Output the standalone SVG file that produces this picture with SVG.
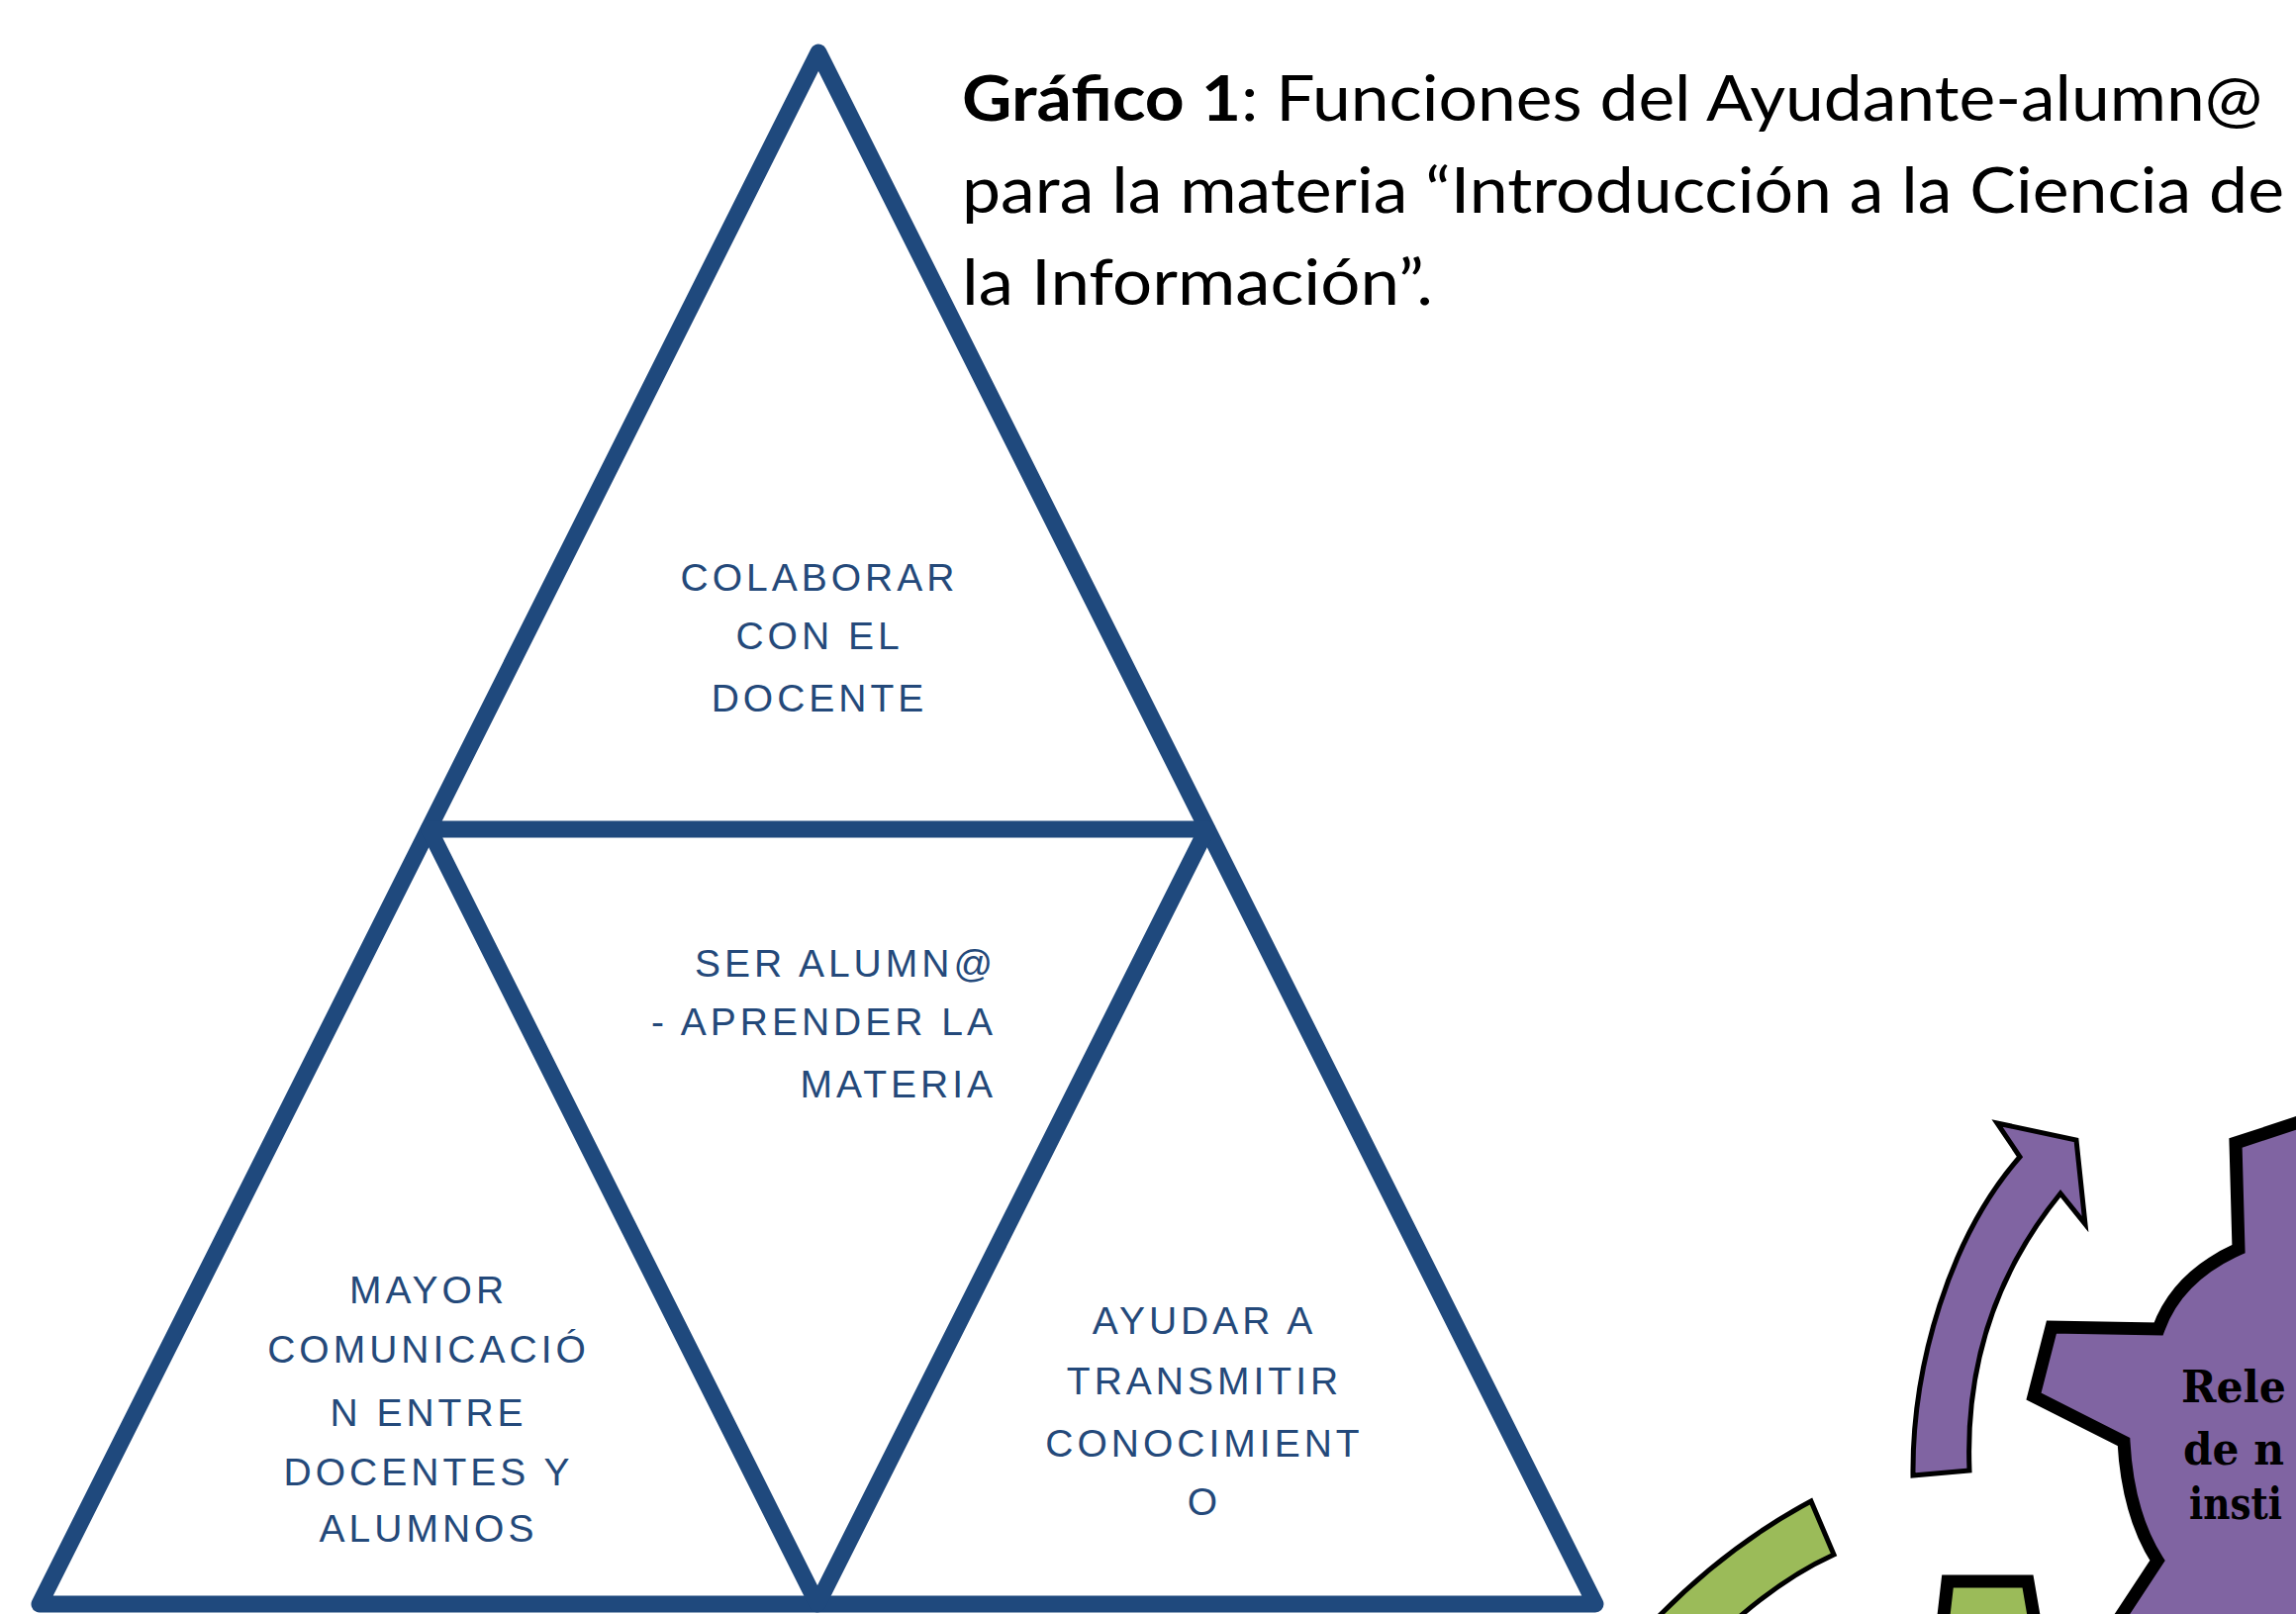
<svg xmlns="http://www.w3.org/2000/svg" width="2320" height="1631" viewBox="0 0 2320 1631">
<style>
.tri{fill:none;stroke:#1F497D;stroke-width:17;stroke-linejoin:round}
.lbl{font-family:"Liberation Sans","DejaVu Sans",sans-serif;font-size:39px;letter-spacing:4px;fill:#24497A;text-anchor:middle}
.lblr{text-anchor:end}
.title{font-family:"Lato","Liberation Sans",sans-serif;font-size:64px;fill:#000}
.gear{font-family:"DejaVu Serif","Liberation Serif",serif;font-weight:bold;font-size:44px;fill:#000}
.purple{fill:#8064A2;stroke:#000}
.green{fill:#9BBB59;stroke:#000}
</style>
<rect width="2320" height="1631" fill="#fff"/>
<g id="title">
<text class="title" x="972" y="122" textLength="1314" lengthAdjust="spacingAndGlyphs"><tspan font-weight="bold">Gráfico 1</tspan>: Funciones del Ayudante-alumn@</text>
<text class="title" x="972" y="215" textLength="1336" lengthAdjust="spacingAndGlyphs">para la materia “Introducción a la Ciencia de</text>
<text class="title" x="972" y="308" textLength="476" lengthAdjust="spacingAndGlyphs">la Información”.</text>
</g>
<g id="pyramid">
<polygon class="tri" points="827,53 40,1621 1612,1621"/>
<polygon class="tri" points="433.5,838 1219.5,838 826,1621"/>
</g>
<g id="node-colaborar">
<text class="lbl" x="828" y="597">COLABORAR</text>
<text class="lbl" x="828" y="656">CON EL</text>
<text class="lbl" x="828" y="719">DOCENTE</text>
</g>
<g id="node-ser-alumno">
<text class="lbl lblr" x="1007" y="987">SER ALUMN@</text>
<text class="lbl lblr" x="1007" y="1046">- APRENDER LA</text>
<text class="lbl lblr" x="1007" y="1109">MATERIA</text>
</g>
<g id="node-comunicacion">
<text class="lbl" x="433" y="1317">MAYOR</text>
<text class="lbl" x="433" y="1377">COMUNICACIÓ</text>
<text class="lbl" x="433" y="1441">N ENTRE</text>
<text class="lbl" x="433" y="1501">DOCENTES Y</text>
<text class="lbl" x="433" y="1558">ALUMNOS</text>
</g>
<g id="node-transmitir">
<text class="lbl" x="1217" y="1348">AYUDAR A</text>
<text class="lbl" x="1217" y="1409">TRANSMITIR</text>
<text class="lbl" x="1217" y="1472">CONOCIMIENT</text>
<text class="lbl" x="1217" y="1531">O</text>
</g>
<g id="gear-purple">
<path class="purple" stroke-width="13" stroke-linejoin="miter" d="M2340,1128 L2320,1135 L2259,1155 L2262,1262 Q2200,1290 2181,1343 L2073,1341 L2055,1411 L2146,1457 Q2150,1530 2180,1577 L2132,1650 L2340,1650 Z"/>
<text class="gear" x="2204" y="1417" textLength="106" lengthAdjust="spacingAndGlyphs">Rele</text>
<text class="gear" x="2206" y="1480" textLength="102" lengthAdjust="spacingAndGlyphs">de n</text>
<text class="gear" x="2212" y="1535" textLength="94" lengthAdjust="spacingAndGlyphs">insti</text>
</g>
<g id="gear-green">
<path class="green" stroke-width="13" d="M1962,1650 L1968,1598 L2049,1598 L2058,1650 Z"/>
</g>
<g id="connectors">
<path class="purple" stroke-width="5" stroke-linejoin="miter" d="M1933,1491 C1932,1380 1970,1250 2041,1169 L2018,1135 L2098,1152 L2107,1237 L2082,1206 C2030,1270 1985,1360 1990,1486 Z"/>
<path class="green" stroke-width="5" d="M1665,1645 Q1740,1565 1830,1517 L1853,1571 Q1800,1595 1745,1645 Z"/>
</g>
</svg>
